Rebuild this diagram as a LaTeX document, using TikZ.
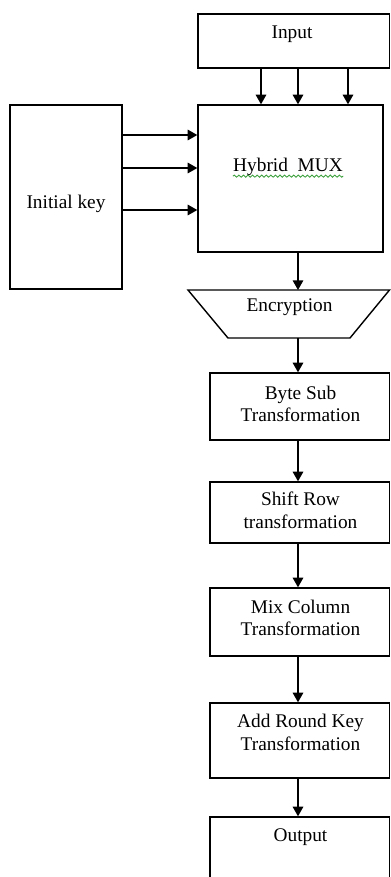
\documentclass[tikz,border=0pt]{standalone}
\usepackage{fontspec}
\setmainfont{Liberation Serif}
\usepackage{tikz}
\usetikzlibrary{
    positioning,
    arrows.meta,
    calc,
    decorations.pathmorphing
}
\definecolor{spellGreen}{RGB}{60, 160, 60}

\begin{document}
\begin{tikzpicture}[x=0.02cm, y=-0.02cm, >={Triangle[length=5.5pt, width=6pt]},
    blk/.style={draw, line width=0.8pt, inner sep=0pt},
    txt/.style={font=\fontsize{11}{12.8}\selectfont, align=center, inner sep=0pt},
    link/.style={->, line width=0.8pt}]
            % 画面範囲
            \useasboundingbox (0,0) rectangle (391,877);
            \clip (0,0) rectangle (391,877);

            % ブロック
            \node[blk, minimum width=3.83cm, minimum height=1.08cm] (input) at (293.75, 41) {};
            \node[blk, minimum width=3.7cm, minimum height=2.94cm] (mux) at (290.5, 178.5) {};
            \node[blk, minimum width=2.24cm, minimum height=3.68cm] (key) at (66, 197) {};
            \node[blk, minimum width=3.59cm, minimum height=1.34cm] (bytesub) at (299.75, 406.5) {};
            \node[blk, minimum width=3.59cm, minimum height=1.22cm] (shiftrow) at (299.75, 512.5) {};
            \node[blk, minimum width=3.59cm, minimum height=1.36cm] (mixcol) at (299.75, 622) {};
            \node[blk, minimum width=3.59cm, minimum height=1.5cm] (addkey) at (299.75, 740.5) {};
            \node[blk, minimum width=3.59cm, minimum height=1.64cm] (output) at (299.75, 858) {};

            % 台形 (Encryption)
            \coordinate (encT) at (298, 290);
            \coordinate (encB) at (298, 338);
            \draw[line width=0.8pt] (188,290) -- (389.5,290) -- (350,338) -- (228,338) -- cycle;

            % テキスト
            \node[txt] (inputText) at (292, 34) {Input};
            \node[txt] (muxText) at (288, 167) {Hybrid\ \ MUX};
            \draw[spellGreen, line width=0.5pt, decorate,
                  decoration={snake, amplitude=0.6pt, segment length=2.6pt}]
                (muxText.south west) -- (muxText.south east);
            \node[txt] (keyText) at (66, 204) {Initial key};
            \node[txt] (encText) at (289.5, 307) {Encryption};
            \node[txt] (byteText) at (300.5, 404) {Byte Sub\\Transformation};
            \node[txt] (shiftText) at (300.5, 510.5) {Shift Row\\transformation};
            \node[txt] (mixText) at (300.5, 618) {Mix Column\\Transformation};
            \node[txt] (addText) at (300.5, 732.5) {Add Round Key\\Transformation};
            \node[txt] (outText) at (300.5, 837) {Output};

            % 矢印
            \foreach \x in {261, 298, 348} {
                \coordinate (c) at (\x, 0);
                \draw[link] (c |- input.south) -- (c |- mux.north);
            }
            \foreach \y in {135, 168, 210} {
                \coordinate (r) at (0, \y);
                \draw[link] (key.east |- r) -- (mux.west |- r);
            }
            \coordinate (col) at (298, 0);
            \draw[link] (col |- mux.south) -- (encT);
            \draw[link] (encB) -- (col |- bytesub.north);
            \draw[link] (col |- bytesub.south) -- (col |- shiftrow.north);
            \draw[link] (col |- shiftrow.south) -- (col |- mixcol.north);
            \draw[link] (col |- mixcol.south) -- (col |- addkey.north);
            \draw[link] (col |- addkey.south) -- (col |- output.north);
        \end{tikzpicture}
\end{document}
